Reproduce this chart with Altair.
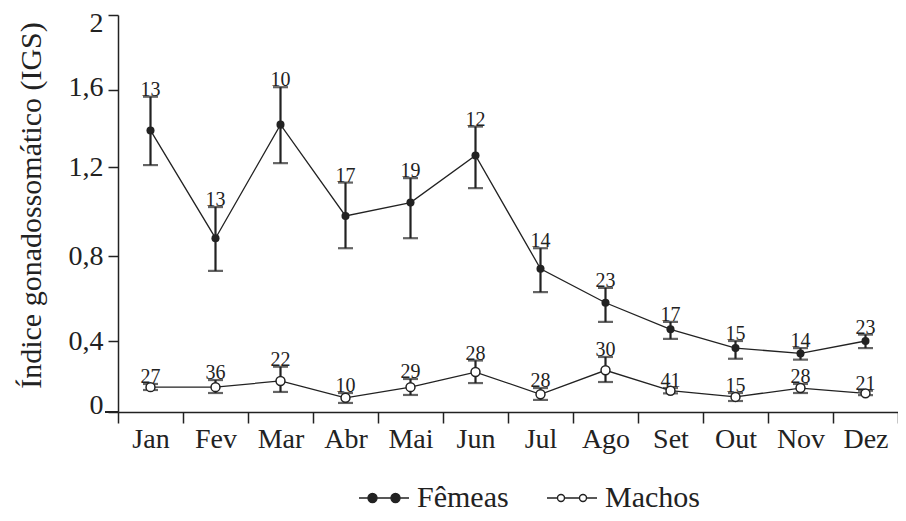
import altair as alt
import pandas as pd

months = ["Jan", "Fev", "Mar", "Abr", "Mai", "Jun", "Jul", "Ago", "Set", "Out", "Nov", "Dez"]
series_names = ["Fêmeas", "Machos"]

fem_mean = [1.39, 0.88, 1.42, 0.98, 1.04, 1.26, 0.74, 0.58, 0.455, 0.36, 0.33, 0.40]
fem_hi = [1.565, 1.02, 1.615, 1.13, 1.15, 1.41, 0.835, 0.65, 0.49, 0.40, 0.36, 0.43]
fem_lo = [1.21, 0.73, 1.22, 0.835, 0.88, 1.105, 0.63, 0.49, 0.41, 0.30, 0.295, 0.36]
fem_n = [13, 13, 10, 17, 19, 12, 14, 23, 17, 15, 14, 23]

mac_mean = [0.14, 0.14, 0.175, 0.08, 0.14, 0.225, 0.10, 0.235, 0.12, 0.085, 0.135, 0.105]
mac_hi = [0.158, 0.18, 0.255, 0.107, 0.186, 0.29, 0.135, 0.31, 0.135, 0.107, 0.158, 0.12]
mac_lo = [0.124, 0.107, 0.113, 0.051, 0.096, 0.163, 0.068, 0.169, 0.105, 0.062, 0.107, 0.095]
mac_n = [27, 36, 22, 10, 29, 28, 28, 30, 41, 15, 28, 21]

y_ticks = [0, 0.4, 0.8, 1.2, 1.6, 2]

rows = []
for i, m in enumerate(months):
    rows.append(dict(mes=m, sexo="Fêmeas", media=fem_mean[i], lo=fem_lo[i], hi=fem_hi[i], n=fem_n[i]))
    rows.append(dict(mes=m, sexo="Machos", media=mac_mean[i], lo=mac_lo[i], hi=mac_hi[i], n=mac_n[i]))
df = pd.DataFrame(rows)

INK = "#222222"
FONT = "Liberation Serif"

x_enc = alt.X(
    "mes:N",
    sort=months,
    scale=alt.Scale(type="band", domain=months, paddingInner=0, paddingOuter=0),
    axis=alt.Axis(
        title=None, labelAngle=0, tickBand="extent", tickSize=11, labelPadding=2,
        labelFont=FONT, labelFontSize=28, labelColor=INK, domainColor=INK,
        tickColor=INK, domainWidth=1.5, tickWidth=1.5, grid=False,
    ),
)

y_scale = alt.Scale(domain=y_ticks, range=[397, 326, 241, 152, 75, 0], nice=False, zero=False)
y_axis = alt.Axis(
    values=y_ticks,
    labelExpr="datum.value == 0 ? '0' : (datum.value == 2 ? '2' : replace(format(datum.value, '.1f'), '.', ','))",
    title="Índice gonadossomático (IGS)",
    titleFont=FONT, titleFontSize=30, titleFontWeight="normal", titleColor=INK,
    titleX=-72, titleY=190,
    labelFont=FONT, labelFontSize=28, labelColor=INK, tickSize=10, labelPadding=5,
    labelOffset={"condition": [{"test": "datum.value == 2", "value": 8},
                               {"test": "datum.value == 0", "value": -7},
                               {"test": "datum.value == 1.6", "value": -3}],
                 "value": 0},
    domainColor=INK, tickColor=INK, domainWidth=1.5, tickWidth=1.5, grid=False,
)

base = alt.Chart(df)

lines = base.mark_line(color=INK, strokeWidth=1.3).encode(
    x=x_enc, y=alt.Y("media:Q", scale=y_scale, axis=y_axis), detail="sexo:N"
)
err = base.mark_rule(color=INK, strokeWidth=2.2).encode(
    x=x_enc, y=alt.Y("lo:Q", scale=y_scale), y2="hi:Q"
)
cap_hi = base.mark_tick(color=INK, thickness=2.2, size=15).encode(
    x=x_enc, y=alt.Y("hi:Q", scale=y_scale)
)
cap_lo = base.mark_tick(color=INK, thickness=2.2, size=15).encode(
    x=x_enc, y=alt.Y("lo:Q", scale=y_scale)
)
pts_f = base.transform_filter(alt.datum.sexo == "Fêmeas").mark_point(
    shape="circle", filled=True, color=INK, size=65, opacity=1
).encode(x=x_enc, y=alt.Y("media:Q", scale=y_scale))
pts_m = base.transform_filter(alt.datum.sexo == "Machos").mark_point(
    shape="circle", filled=True, fill="white", stroke=INK, strokeWidth=1.5, size=80, opacity=1
).encode(x=x_enc, y=alt.Y("media:Q", scale=y_scale))
labels = base.mark_text(baseline="alphabetic", dy=-1, font=FONT, fontSize=20, color=INK).encode(
    x=x_enc, y=alt.Y("hi:Q", scale=y_scale), text="n:N"
)

path_f = ("M-1,0H-0.64M-0.28,0H0.28M0.64,0H1"
          "M-0.28,0A0.18,0.18,0,1,0,-0.64,0A0.18,0.18,0,1,0,-0.28,0"
          "M0.64,0A0.18,0.18,0,1,0,0.28,0A0.18,0.18,0,1,0,0.64,0")
path_m = ("M-1,0H-0.58M-0.30,0H0.30M0.58,0H1"
          "M-0.30,0A0.14,0.14,0,1,0,-0.58,0A0.14,0.14,0,1,0,-0.30,0"
          "M0.58,0A0.14,0.14,0,1,0,0.30,0A0.14,0.14,0,1,0,0.58,0")

leg = alt.Legend(
    title=None, orient="none", legendX=240, legendY=457, direction="horizontal",
    symbolSize=2500, symbolStrokeColor=INK, symbolStrokeWidth=1.4, symbolOpacity=1,
    labelFont=FONT, labelFontSize=30, labelColor=INK, labelOffset=7, columnPadding=35,
)
legend_layer = base.mark_point(filled=True, stroke=INK, strokeWidth=1.4, opacity=0).encode(
    x=x_enc, y=alt.Y("media:Q", scale=y_scale),
    shape=alt.Shape("sexo:N", scale=alt.Scale(domain=series_names, range=[path_f, path_m]), legend=leg),
    fill=alt.Fill("sexo:N", scale=alt.Scale(domain=series_names, range=[INK, "white"]), legend=leg),
    stroke=alt.Stroke("sexo:N", scale=alt.Scale(domain=series_names, range=[INK, INK]), legend=leg),
)

axis_ext = base.mark_rule(color=INK, strokeWidth=1.5).encode(
    x=alt.value(-13), x2=alt.value(0), y=alt.value(397)
)

chart = alt.layer(
    lines, err, cap_hi, cap_lo, pts_f, pts_m, labels, legend_layer, axis_ext
).properties(
    width=780, height=397,
    autosize=alt.AutoSizeParams(type="none"),
    padding={"left": 110, "top": 7, "right": 0, "bottom": 101},
    background="white",
).configure_view(stroke=None)

chart.save("out.html", embed_options={"renderer": "svg", "actions": False})
